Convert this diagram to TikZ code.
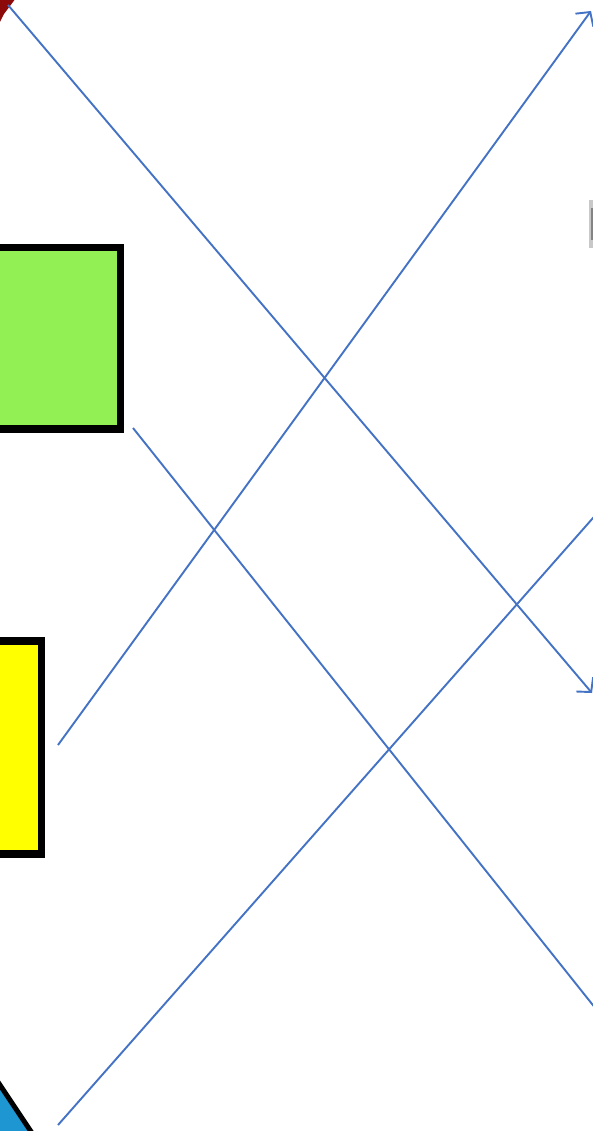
\documentclass[tikz,border=0pt]{standalone}
\usetikzlibrary{arrows.meta}
\definecolor{lineblue}{RGB}{68,114,196}
\definecolor{boxgreen}{RGB}{146,240,84}
\definecolor{boxyellow}{RGB}{255,255,0}
\definecolor{darkred}{RGB}{140,10,10}
\definecolor{triblue}{RGB}{30,150,210}
\tikzset{
  conn/.style={draw=lineblue, line width=1.9pt},
  arr/.style={conn, -{Straight Barb[length=10pt,width=22pt,line width=1.9pt]}},
  boxframe/.style={draw=black, line width=7.5pt}
}
\begin{document}
\begin{tikzpicture}[x=1pt,y=-1pt]
\useasboundingbox (0,0) rectangle (593,1131);
\clip (0,0) rectangle (593,1131);
\fill[white] (0,0) rectangle (593,1131);
% corner fragments
\fill[darkred] (-2,-2) -- (16,-2) -- (4,14) -- (-2,26) -- cycle;
\fill[triblue] (-2,1082) -- (32,1133) -- (-2,1133) -- cycle;
\draw[black, line width=5pt] (-2,1082) -- (32,1133);
\fill[gray!60, opacity=0.7] (589,200) rectangle (595,248);
\fill[gray!90!black, opacity=0.8] (591,208) rectangle (595,240);
% boxes
\node[boxframe, fill=boxgreen, minimum width=150pt, minimum height=181pt, inner sep=0pt, anchor=north east] (green) at (124,244) {};
\node[boxframe, fill=boxyellow, minimum width=80pt, minimum height=213pt, inner sep=0pt, anchor=north east] (yellow) at (45,637) {};
% connector ends
\coordinate (a1) at (8,5);
\coordinate (a2) at (592,693);
\coordinate (b1) at (133,428);
\coordinate (b2) at (600,1014);
\coordinate (c1) at (58,745);
\coordinate (c2) at (591,11);
\coordinate (d1) at (58,1125);
\coordinate (d2) at (600,510);
\draw[arr] (a1) -- (a2);
\draw[conn] (b1) -- (b2);
\draw[arr] (c1) -- (c2);
\draw[conn] (d1) -- (d2);
\end{tikzpicture}
\end{document}
